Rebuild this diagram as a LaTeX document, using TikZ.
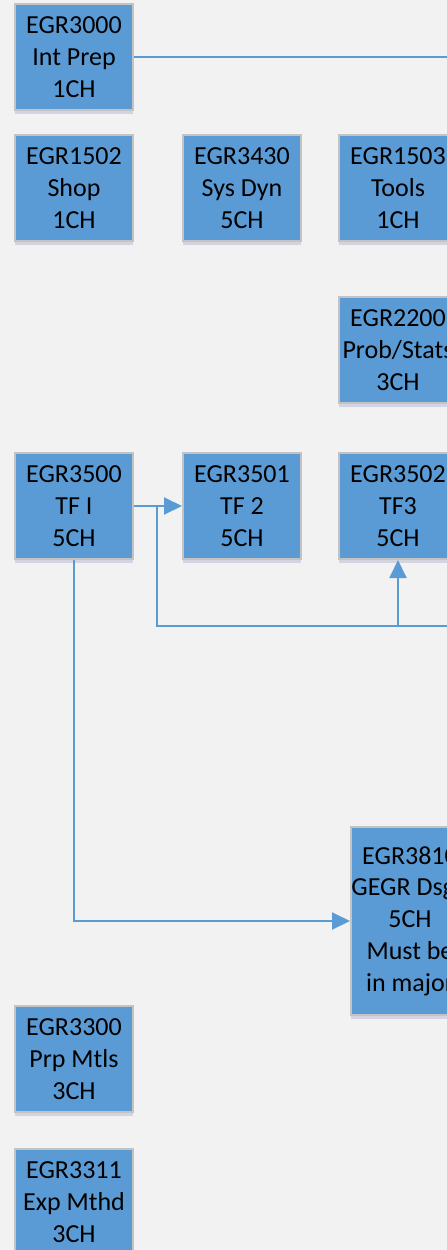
\documentclass[tikz,border=0pt]{standalone}
\usepackage{fontspec}
\setmainfont{Carlito}
\usetikzlibrary{arrows.meta,shadows}
\definecolor{bg}{HTML}{F2F2F2}
\definecolor{boxblue}{HTML}{5B9BD5}
\definecolor{boxedge}{HTML}{C3C3C3}
\definecolor{linkblue}{HTML}{5B9BD5}
\tikzset{
  course/.style={draw=boxedge, line width=2pt, fill=boxblue, minimum width=118pt, minimum height=106pt,
    inner sep=0pt, align=center, font=\fontsize{26}{31.8}\selectfont, text=black,
    drop shadow={shadow xshift=0pt, shadow yshift=-4pt, opacity=0.12, fill=black!60!blue}},
  link/.style={draw=linkblue, line width=2pt},
  arr/.style={link, -{Triangle[length=18pt,width=17pt]}}
}
\begin{document}
\begin{tikzpicture}[x=1pt,y=-1pt]
\useasboundingbox (0,0) rectangle (447,1250);
\fill[bg] (0,0) rectangle (447,1250);
\clip (0,0) rectangle (447,1250);
\node[course] (e3000) at (74,57) {EGR3000\\Int Prep\\1CH};
\node[course] (e1502) at (74,188) {EGR1502\\Shop\\1CH};
\node[course] (e3430) at (242,188) {EGR3430\\Sys Dyn\\5CH};
\node[course] (e1503) at (398,188) {EGR1503\\Tools\\1CH};
\node[course] (e2200) at (398,350) {EGR2200\\Prob/Stats\\3CH};
\node[course] (e3500) at (74,506) {EGR3500\\TF I\\5CH};
\node[course] (e3501) at (242,506) {EGR3501\\TF 2\\5CH};
\node[course] (e3502) at (398,506) {EGR3502\\TF3\\5CH};
\node[course, minimum height=188pt] (e381) at (410,921) {EGR3810\\GEGR Dsgn\\5CH\\Must be\\in major};
\node[course] (e3300) at (74,1059) {EGR3300\\Prp Mtls\\3CH};
\node[course] (e3311) at (74,1202) {EGR3311\\Exp Mthd\\3CH};
% connectors
\coordinate (r1) at (470,57);
\draw[link] (e3000.east) -- (r1);
\draw[arr] (e3500.east) -- (e3501.west);
\coordinate (r2) at (470,626);
\coordinate (j1) at (398,626);
\coordinate (j2) at (157,626);
\coordinate (j3) at (157,506);
\draw[link] (r2) -- (j2) -- (j3);
\draw[arr] (j1) -- (e3502.south);
\draw[arr] (e3500.south) |- (e381.west);
\end{tikzpicture}
\end{document}
